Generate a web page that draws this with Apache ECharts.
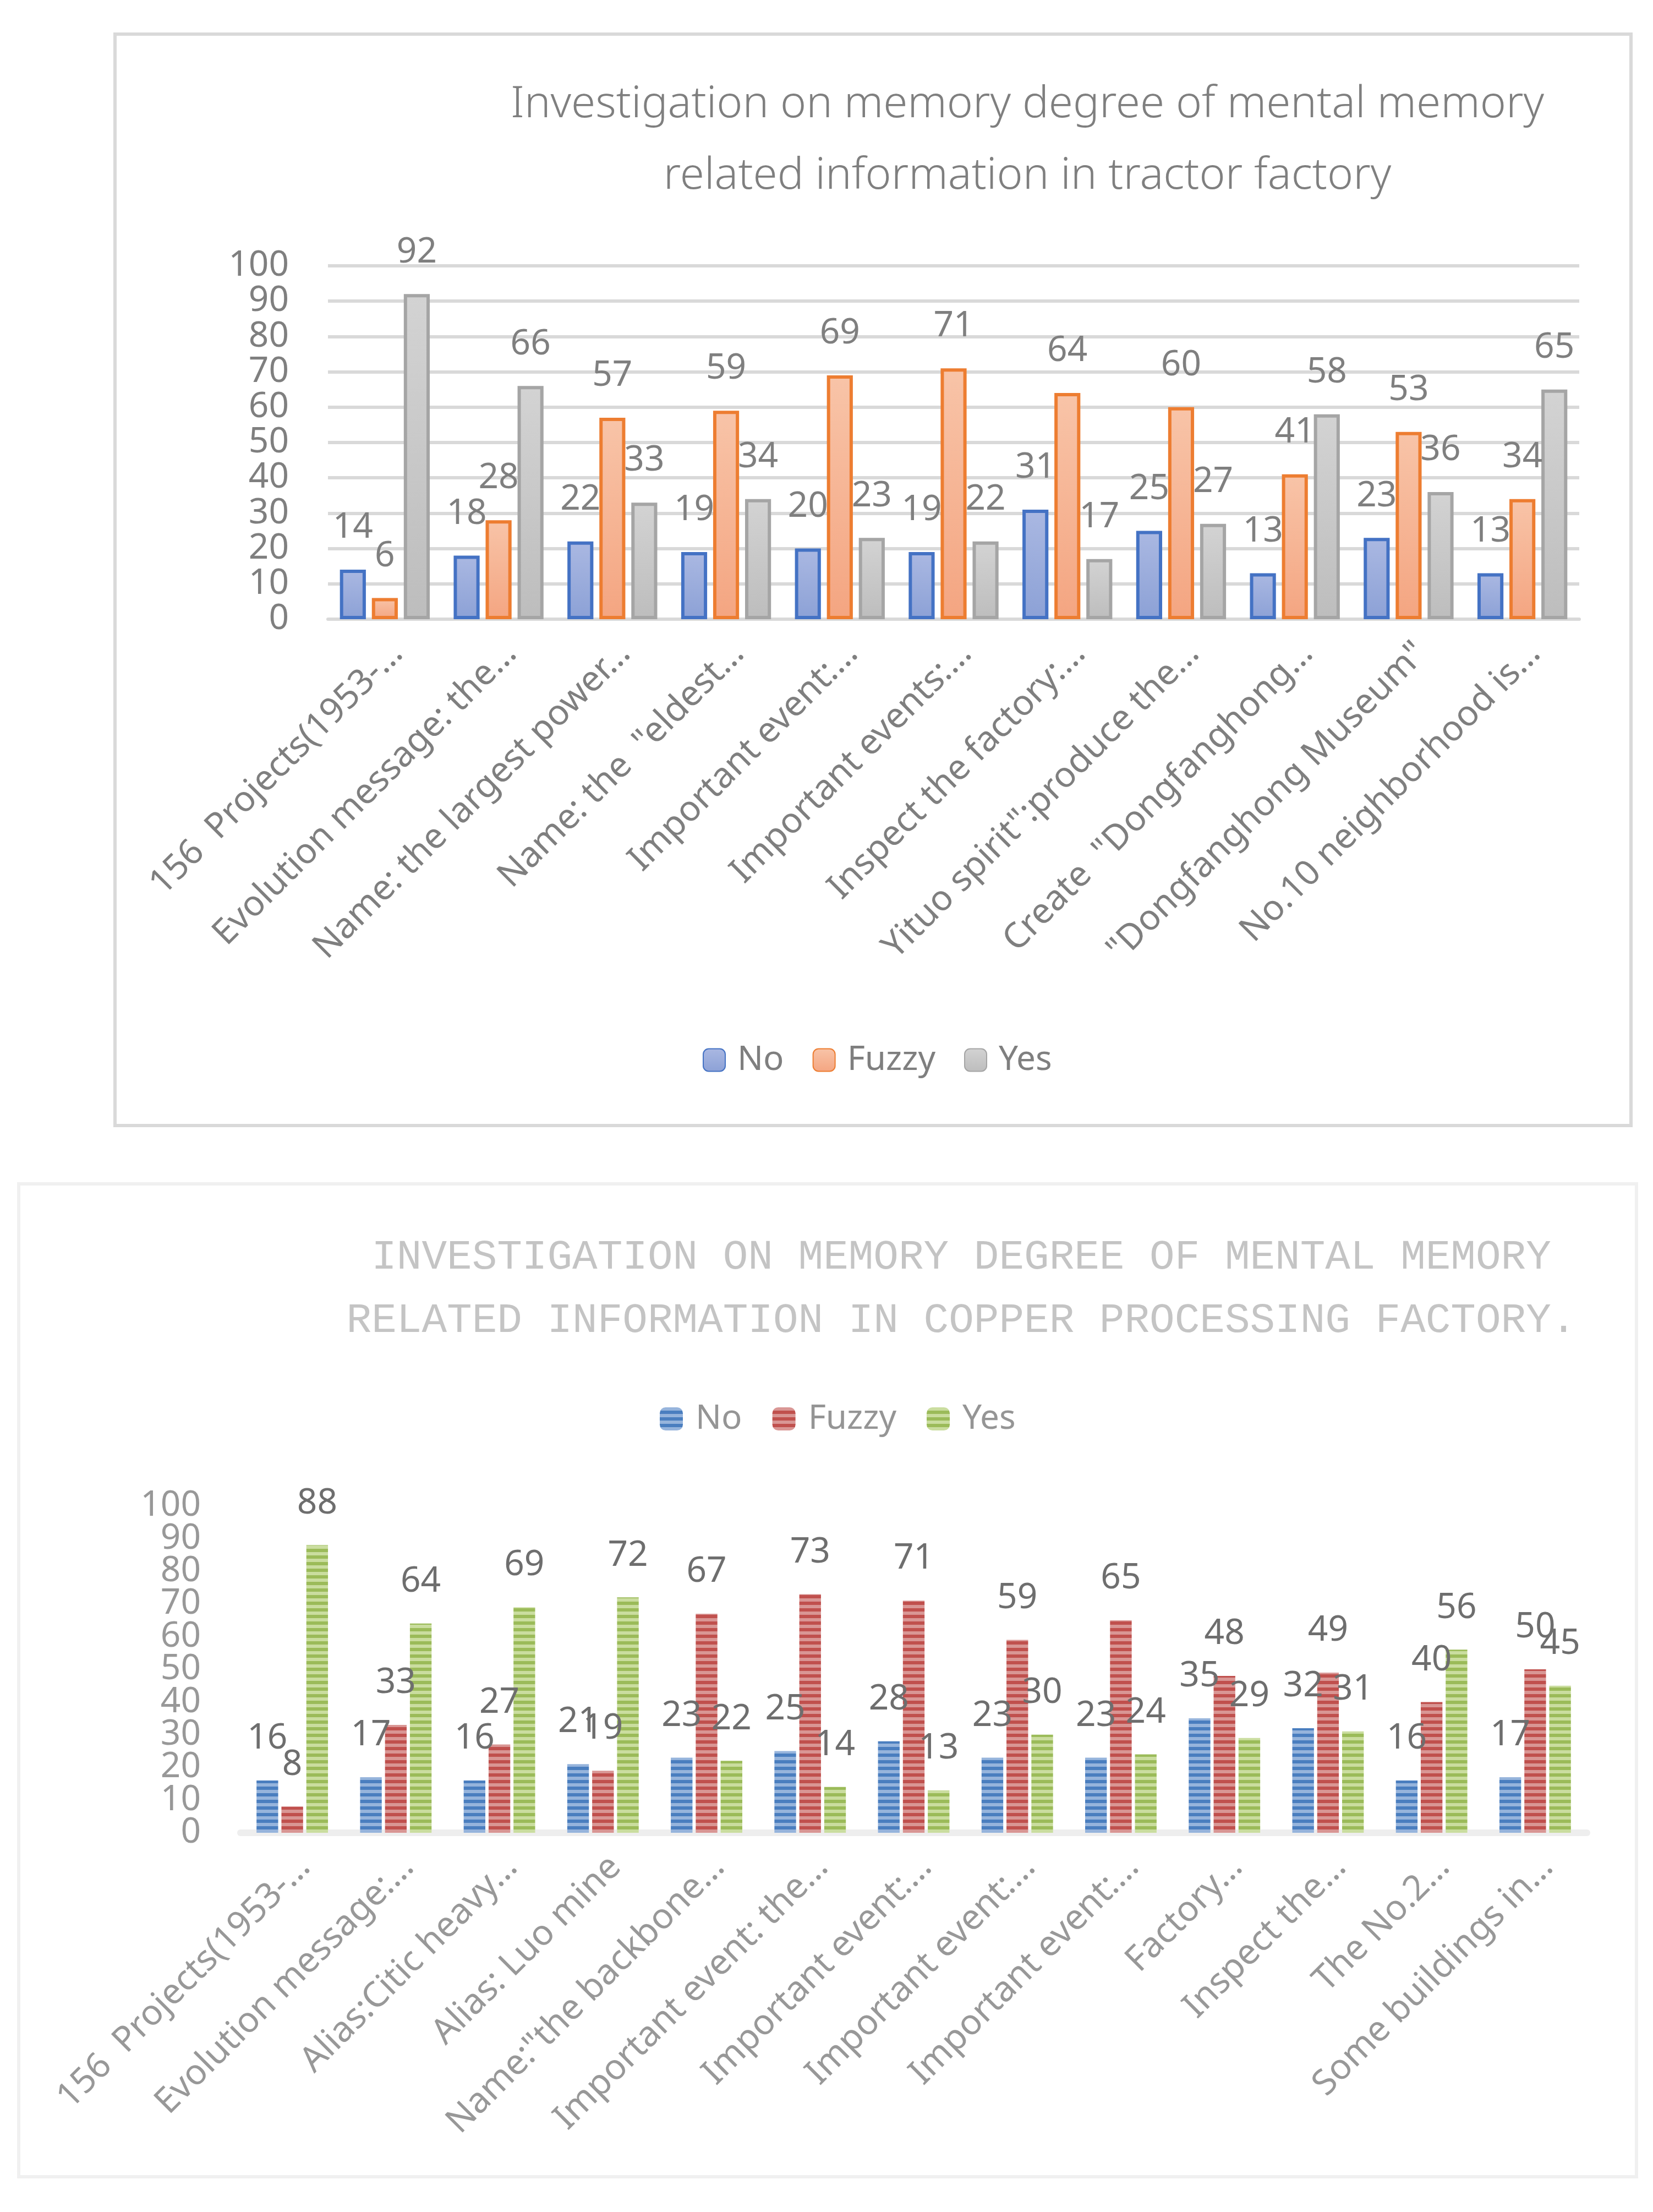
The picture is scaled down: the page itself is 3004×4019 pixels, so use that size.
<!DOCTYPE html>
<html>
<head>
<meta charset="utf-8">
<script src="https://cdn.jsdelivr.net/npm/echarts@6/dist/echarts.min.js"></script>
<style>
html,body{margin:0;padding:0;background:#ffffff;}
#c{width:3004px;height:4019px;}
</style>
</head>
<body>
<div id="c"></div>
<script>
// ---------- Chart 1: tractor factory ----------
const tractorTitle = 'Investigation on memory degree of mental memory\nrelated information in tractor factory';
const tractorCategories = [
  '156  Projects(1953-…',
  'Evolution message: the…',
  'Name: the largest power…',
  'Name: the  "eldest…',
  'Important event:…',
  'Important events:…',
  'Inspect the factory:…',
  'Yituo spirit":produce the…',
  'Create  "Dongfanghong…',
  '"Dongfanghong Museum"',
  'No.10 neighborhood is…'
];
const tractorNo    = [14, 18, 22, 19, 20, 19, 31, 25, 13, 23, 13];
const tractorFuzzy = [6, 28, 57, 59, 69, 71, 64, 60, 41, 53, 34];
const tractorYes   = [92, 66, 33, 34, 23, 22, 17, 27, 58, 36, 65];

// ---------- Chart 2: copper processing factory ----------
const copperTitle = 'INVESTIGATION ON MEMORY DEGREE OF MENTAL MEMORY\nRELATED INFORMATION IN COPPER PROCESSING FACTORY.';
const copperCategories = [
  '156  Projects(1953-…',
  'Evolution message:…',
  'Alias:Citic heavy…',
  'Alias: Luo mine',
  'Name:"the backbone…',
  'Important event: the…',
  'Important event:…',
  'Important event:…',
  'Important event:…',
  'Factory…',
  'Inspect the…',
  'The No.2…',
  'Some buildings in…'
];
const copperNo    = [16, 17, 16, 21, 23, 25, 28, 23, 23, 35, 32, 16, 17];
const copperFuzzy = [8, 33, 27, 19, 67, 73, 71, 59, 65, 48, 49, 40, 50];
const copperYes   = [88, 64, 69, 72, 22, 14, 13, 30, 24, 29, 31, 56, 45];

const seriesNames = ['No', 'Fuzzy', 'Yes'];

// ---------- styles ----------
const FONT = 'Noto Sans';
function grad(top, bottom) {
  return new echarts.graphic.LinearGradient(0, 0, 0, 1, [
    {offset: 0, color: top}, {offset: 1, color: bottom}
  ]);
}
function stripes(dark, light) {
  const c = document.createElement('canvas');
  c.width = 8; c.height = 12;
  const g = c.getContext('2d');
  g.fillStyle = light; g.fillRect(0, 0, 8, 12);
  g.fillStyle = dark; g.fillRect(0, 6, 8, 6);
  return {image: c, repeat: 'repeat'};
}
const tractorStyles = [
  {color: grad('#aab8e2', '#8ca1d6'), borderColor: '#4472c4'},
  {color: grad('#f8c4a8', '#f4a581'), borderColor: '#ed7d31'},
  {color: grad('#d3d3d3', '#bdbdbd'), borderColor: '#a5a5a5'}
];
const copperStyles = [
  {color: stripes('#4a7ebf', '#96b4dc')},
  {color: stripes('#c0504d', '#d99694')},
  {color: stripes('#9bbb59', '#cadd9f')}
];

const tractorData = [tractorNo, tractorFuzzy, tractorYes];
const copperData = [copperNo, copperFuzzy, copperYes];

const series = [];
tractorData.forEach((d, i) => {
  series.push({
    type: 'bar', name: seriesNames[i], xAxisIndex: 0, yAxisIndex: 0,
    data: d,
    barGap: '23%', barCategoryGap: '21%',
    itemStyle: Object.assign({borderWidth: 6}, tractorStyles[i]),
    label: {show: true, position: 'top', distance: 44, fontFamily: FONT, fontSize: 64, color: '#7f7f7f'},
    emphasis: {disabled: true}
  });
});
copperData.forEach((d, i) => {
  series.push({
    type: 'bar', name: seriesNames[i] + ' (copper)', xAxisIndex: 1, yAxisIndex: 1,
    data: d,
    barGap: '15%', barCategoryGap: '31%',
    itemStyle: copperStyles[i],
    label: {show: true, position: 'top', distance: 44, fontFamily: FONT, fontSize: 64, color: '#6e6e6e'},
    emphasis: {disabled: true}
  });
});

// chart 2 y labels are split over two overlaid axes (even / odd tens) so none get hidden
const copperYAxis = (labelFilter) => ({
  type: 'value', gridIndex: 1, position: 'left', offset: 0, min: 0, max: 100, interval: 10,
  axisLine: {show: false}, axisTick: {show: false}, splitLine: {show: false},
  axisLabel: {margin: 72, fontFamily: FONT, fontSize: 64, color: '#989898',
              showMinLabel: true, showMaxLabel: true,
              formatter: v => (labelFilter(v) ? String(v) : '')}
});

const chart = echarts.init(document.getElementById('c'), null, {renderer: 'canvas'});
chart.setOption({
  animation: false,
  backgroundColor: '#ffffff',
  graphic: [
    {type: 'rect', shape: {x: 209, y: 62, width: 2755, height: 1983},
     style: {fill: 'none', stroke: '#d9d9d9', lineWidth: 6}, silent: true, z: -1},
    {type: 'rect', shape: {x: 34, y: 2151, width: 2940, height: 1804},
     style: {fill: 'none', stroke: '#f0f0f0', lineWidth: 6}, silent: true, z: -1}
  ],
  title: [
    {text: tractorTitle, left: 1862, top: 120, textAlign: 'center',
     textStyle: {fontFamily: FONT, fontSize: 80, fontWeight: 300, color: '#7f7f7f', lineHeight: 130}},
    {text: copperTitle, left: 1742, top: 2222, textAlign: 'center',
     textStyle: {fontFamily: 'Liberation Mono', fontSize: 76, fontWeight: 'normal', color: '#c4c4c4', lineHeight: 115}}
  ],
  legend: [
    {data: seriesNames, left: 1272, top: 1890, orient: 'horizontal',
     itemWidth: 40, itemHeight: 41, itemGap: 52,
     textStyle: {fontFamily: FONT, fontSize: 62, color: '#7f7f7f', padding: [0, 0, 0, 17]}},
    {data: seriesNames.map(n => n + ' (copper)'), left: 1194, top: 2542, orient: 'horizontal',
     itemWidth: 42, itemHeight: 42, itemGap: 55,
     formatter: n => n.split(' ')[0],
     textStyle: {fontFamily: FONT, fontSize: 62, color: '#959595', padding: [0, 0, 0, 18]}}
  ],
  grid: [
    {left: 596, top: 483, width: 2274, height: 642, containLabel: false},
    {left: 437, top: 2736, width: 2447, height: 594, containLabel: false}
  ],
  xAxis: [
    {type: 'category', gridIndex: 0, data: tractorCategories,
     axisLine: {show: true, lineStyle: {color: '#d9d9d9', width: 6}},
     axisTick: {show: false},
     axisLabel: {interval: 0, rotate: 45, margin: 30, verticalAlign: 'top',
                 fontFamily: FONT, fontSize: 64, color: '#7f7f7f'}},
    {type: 'category', gridIndex: 1, data: copperCategories,
     axisLine: {show: true, lineStyle: {color: '#eeeeee', width: 12}},
     axisTick: {show: false},
     axisLabel: {interval: 0, rotate: 45, margin: 30, verticalAlign: 'top',
                 fontFamily: FONT, fontSize: 64, color: '#989898'}}
  ],
  yAxis: [
    {type: 'value', gridIndex: 0, min: 0, max: 100, interval: 10,
     axisLine: {show: false}, axisTick: {show: false},
     splitLine: {show: true, lineStyle: {color: '#d9d9d9', width: 6}},
     axisLabel: {margin: 71, fontFamily: FONT, fontSize: 64, color: '#7f7f7f',
                 showMinLabel: true, showMaxLabel: true}},
    copperYAxis(v => v % 20 === 0),
    copperYAxis(v => v % 20 !== 0)
  ],
  series: series
});
</script>
</body>
</html>
